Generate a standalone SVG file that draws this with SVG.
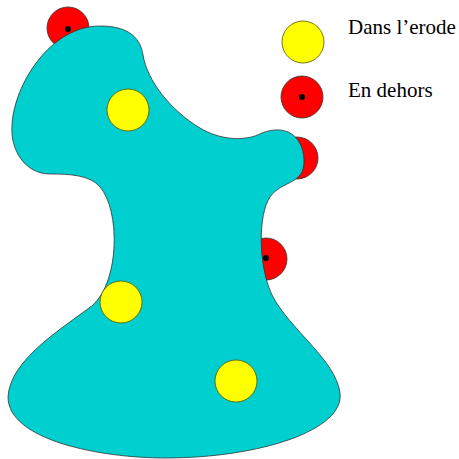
<svg xmlns="http://www.w3.org/2000/svg" width="459" height="459" viewBox="0 0 459 459">
<style>
.red{fill:#ff0000;stroke:#333;stroke-width:0.8}
.yel{fill:#ffff00;stroke:#555500;stroke-width:0.8}
.dot{fill:#000}
.shape{fill:#00cfd0;stroke:#333;stroke-width:0.8}
.lbl{font-family:"Liberation Serif",serif;font-size:21px;fill:#000}
</style>
<rect width="459" height="459" fill="#fff"/>
<g id="out1"><circle class="red" cx="68" cy="28" r="21"/><circle class="dot" cx="68" cy="29" r="3"/></g>
<g id="out2"><circle class="red" cx="297" cy="158" r="21"/></g>
<g id="out3"><circle class="red" cx="266" cy="259" r="21"/><circle class="dot" cx="266" cy="258" r="3"/></g>
<g id="erode"><path class="shape" d="M 100 26 C 125 26, 140 35, 143 55 C 147 80, 170 110, 200 128 C 220 140, 245 142, 262 133 C 285 124, 303 135, 304 160 C 305 185, 282 180, 270 197 C 258 215, 258 265, 272 295 C 290 330, 336 360, 340 393 C 345 430, 260 458, 165 458 C 100 458, 8 440, 8 397 C 10 360, 60 330, 93 305 C 120 280, 120 210, 100 187 C 90 175, 70 174, 50 174 C 25 174, 10 150, 12 125 C 14 85, 50 26, 100 26 Z"/></g>
<g id="in1"><circle class="yel" cx="128" cy="110" r="21"/></g>
<g id="in2"><circle class="yel" cx="121" cy="302" r="21"/></g>
<g id="in3"><circle class="yel" cx="236" cy="381" r="21"/></g>
<g id="legend">
<circle class="yel" cx="303" cy="42" r="21"/>
<text class="lbl" x="348" y="34">Dans l’erode</text>
<circle class="red" cx="302" cy="97" r="21"/><circle class="dot" cx="302" cy="97" r="3"/>
<text class="lbl" x="348" y="97">En dehors</text>
</g>
</svg>
